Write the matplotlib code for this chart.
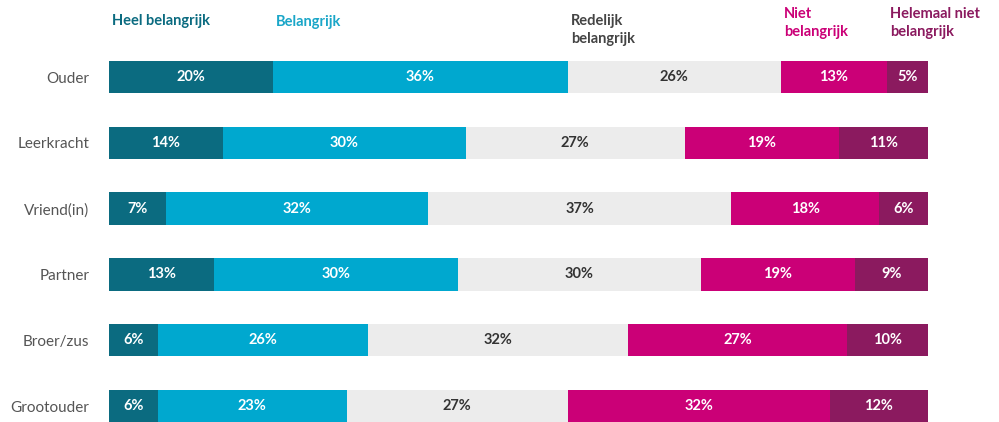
import matplotlib.pyplot as plt
import numpy as np

plt.rcParams['font.family'] = ['Lato', 'DejaVu Sans']

categories = ['Ouder', 'Leerkracht', 'Vriend(in)', 'Partner', 'Broer/zus', 'Grootouder']
series = ['Heel belangrijk', 'Belangrijk', 'Redelijk\nbelangrijk', 'Niet\nbelangrijk', 'Helemaal niet\nbelangrijk']
heel = [20, 14, 7, 13, 6, 6]
belangrijk = [36, 30, 32, 30, 26, 23]
redelijk = [26, 27, 37, 30, 32, 27]
niet = [13, 19, 18, 19, 27, 32]
helemaal_niet = [5, 11, 6, 9, 10, 12]

values = np.array([heel, belangrijk, redelijk, niet, helemaal_niet], dtype=float)
# rows that add up to 101 are drawn to full width
widths = values / values.sum(axis=0) * 100
colors = ['#0b6b80', '#00a8cf', '#ececec', '#cb0077', '#8b1a5f']
text_colors = ['white', 'white', '#333333', 'white', 'white']
header_colors = ['#0b6b80', '#1aa6c8', '#444444', '#cb0077', '#8b1a5f']
header_y = [-0.851, -0.836, -0.714, -0.821, -0.821]

fig = plt.figure(figsize=(9.99, 4.22), dpi=100)
ax = fig.add_axes([109 / 999, 0, 819 / 999, (422 - 44.1) / 422])

y = np.arange(len(categories))
left = np.zeros(len(categories))
for i in range(len(series)):
    ax.barh(y, widths[i], left=left, height=0.49, color=colors[i], clip_on=False)
    for j in range(len(categories)):
        ax.text(left[j] + widths[i][j] / 2, y[j], f'{int(values[i][j])}%',
                ha='center', va='center', fontsize=10.5, fontweight='bold',
                color=text_colors[i])
    left += widths[i]

# series headers, aligned to the first row's segment starts
starts = np.concatenate([[0], np.cumsum(widths[:, 0])[:-1]])
for i in range(len(series)):
    ax.text(starts[i] + 0.4, header_y[i], series[i], ha='left', va='center',
            fontsize=10.5, fontweight='bold', color=header_colors[i],
            linespacing=1.3, clip_on=False)

ax.set_xlim(0, 100)
ax.set_ylim(5.243, -0.5)
ax.set_yticks(y)
ax.set_yticklabels(categories, fontsize=11, color='#555555')
ax.tick_params(axis='y', length=0, pad=14)
ax.set_xticks([])
for s in ax.spines.values():
    s.set_visible(False)

fig.savefig('out.png', dpi=100)
